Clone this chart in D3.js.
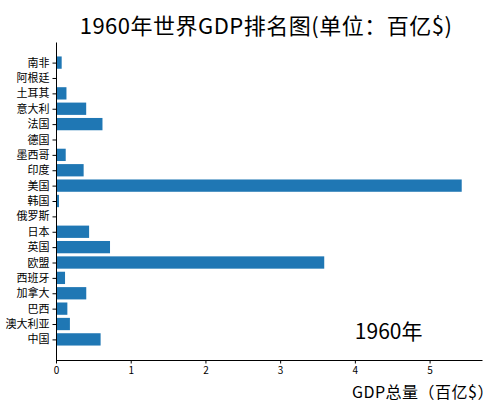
<!DOCTYPE html>
<html>
<head>
<meta charset="utf-8">
<script src="https://cdn.jsdelivr.net/npm/d3@7"></script>
<style>
  body { margin: 0; background: #fff; }
  text { font-family: "Noto Sans CJK SC", "DejaVu Sans", sans-serif; fill: #000; }
  .tick line, .domain { stroke: #000; }
</style>
</head>
<body>
<div id="chart"></div>
<script>
// bottom to top, as matplotlib barh draws them
const countries = ['中国', '澳大利亚', '巴西', '加拿大', '西班牙', '欧盟', '英国', '日本', '俄罗斯', '韩国',
                   '美国', '印度', '墨西哥', '德国', '法国', '意大利', '土耳其', '阿根廷', '南非'];
const gdp = [0.597, 0.186, 0.152, 0.405, 0.121, 3.59, 0.723, 0.443, null, 0.04,
             5.43, 0.37, 0.13, null, 0.622, 0.404, 0.14, null, 0.076];
const xTicks = [0, 1, 2, 3, 4, 5];
const year = '1960';

const W = 500, H = 404;
const margin = {top: 42, right: 18, bottom: 44, left: 56};
const width = W - margin.left - margin.right;
const height = H - margin.top - margin.bottom;

const svg = d3.select('#chart').append('svg')
  .attr('width', W)
  .attr('height', H);

const g = svg.append('g')
  .attr('transform', `translate(${margin.left},${margin.top})`);

const maxVal = d3.max(gdp);
const x = d3.scaleLinear()
  .domain([0, maxVal * 1.05])
  .range([0, width]);

// index scale with matplotlib-style 5% margins around the bars
const n = countries.length;
const span = (n - 1) + 0.8;
const y = d3.scaleLinear()
  .domain([-0.4 - span * 0.05, n - 1 + 0.4 + span * 0.05])
  .range([height, 0]);
const barH = y(0) - y(0.8);

// bars
g.selectAll('.bar')
  .data(countries.map((c, i) => ({c, i, v: gdp[i]})).filter(d => d.v != null))
  .enter().append('rect')
  .attr('class', 'bar')
  .attr('x', x(0))
  .attr('y', d => y(d.i + 0.4))
  .attr('width', d => x(d.v) - x(0))
  .attr('height', barH)
  .attr('fill', '#1f77b4');

// x axis
const xAxis = g.append('g')
  .attr('transform', `translate(0,${height})`)
  .call(d3.axisBottom(x).tickValues(xTicks).tickFormat(d3.format('d'))
    .tickSize(3.5).tickPadding(3).tickSizeOuter(0));
xAxis.selectAll('text').style('font-size', '10px');

// y axis
const yAxis = g.append('g')
  .call(d3.axisLeft(y).tickValues(d3.range(n)).tickFormat(i => countries[i])
    .tickSize(3.5).tickPadding(3).tickSizeOuter(0));
yAxis.selectAll('text').style('font-size', '11px');

// title
svg.append('text')
  .attr('x', 266)
  .attr('y', 34)
  .attr('text-anchor', 'middle')
  .style('font-size', '22px')
  .style('letter-spacing', '0.5px')
  .text('1960年世界GDP排名图(单位：百亿$)');

// x label
svg.append('text')
  .attr('x', 494)
  .attr('y', 398)
  .attr('text-anchor', 'end')
  .style('font-size', '16px')
  .style('letter-spacing', '0.5px')
  .text('GDP总量（百亿$）');

// year stamp
g.append('text')
  .attr('x', x(4))
  .attr('y', 297)
  .style('font-size', '21px')
  .text(year + '年');
</script>
</body>
</html>
